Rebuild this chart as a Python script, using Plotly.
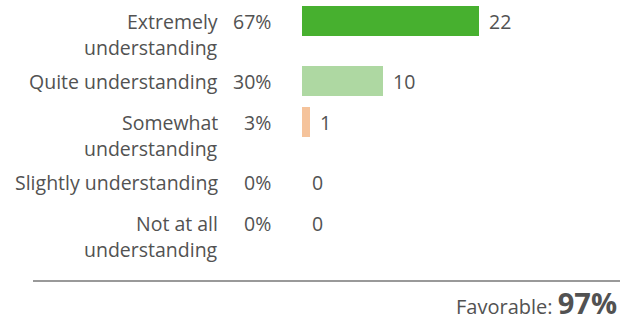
import plotly.graph_objects as go

# Survey responses
label_lines = [["Extremely", "understanding"], ["Quite understanding"],
               ["Somewhat", "understanding"], ["Slightly understanding"],
               ["Not at all", "understanding"]]
counts = [22, 10, 1, 0, 0]
percents = [67, 30, 3, 0, 0]
colors = ["#47b02f", "#aed8a2", "#f5c39b", "#e8a27a", "#e07a5f"]
favorable = 97

W, H = 632, 322
FONT = "Open Sans"
SIZE = 19.5
TEXT = "#525252"

# Row positions in pixel units: a wrapped label pushes the next row down
ROW_STEP, WRAP_EXTRA, LINE_H = 41, 19, 26
ys = []
y = 21
for lines in label_lines:
    ys.append(y)
    y += ROW_STEP + WRAP_EXTRA * (len(lines) - 1)

px_per_unit = 8.05
bar_x0 = 302

fig = go.Figure(go.Bar(
    x=counts, y=ys, orientation="h", width=30,
    marker=dict(color=colors, line=dict(width=0)),
    hoverinfo="skip",
))

def label(x, yy, text, xref="paper", anchor="right", xshift=0, size=SIZE):
    return dict(xref=xref, yref="y", x=x, y=yy, xanchor=anchor, yanchor="middle",
                xshift=xshift, text=text, showarrow=False,
                font=dict(family=FONT, size=size, color=TEXT))

annotations = []
for yy, lines, pct, n in zip(ys, label_lines, percents, counts):
    for i, line in enumerate(lines):
        annotations.append(label(220 / W, yy + LINE_H * i, line))
    annotations.append(label(273 / W, yy, f"{pct}%"))
    annotations.append(label(n, yy, str(n), xref="x", anchor="left", xshift=8))

annotations.append(dict(
    xref="paper", yref="y", x=619 / W, y=302, xanchor="right", yanchor="middle",
    text=f"Favorable: <b style='font-size:29px'>{favorable}%</b>",
    showarrow=False, font=dict(family=FONT, size=20, color=TEXT)))

fig.update_layout(
    width=W, height=H, margin=dict(l=0, r=0, t=0, b=0),
    paper_bgcolor="white", plot_bgcolor="white",
    showlegend=False, bargap=0,
    xaxis=dict(domain=[bar_x0 / W, 1], range=[0, (W - bar_x0) / px_per_unit],
               visible=False, fixedrange=True),
    yaxis=dict(range=[H, 0], visible=False, fixedrange=True),
    annotations=annotations,
    shapes=[dict(type="line", xref="paper", yref="y", x0=33 / W, x1=620 / W,
                 y0=281, y1=281, line=dict(color="#999999", width=2))],
)

fig.write_html("out.html", config={"displayModeBar": False})
